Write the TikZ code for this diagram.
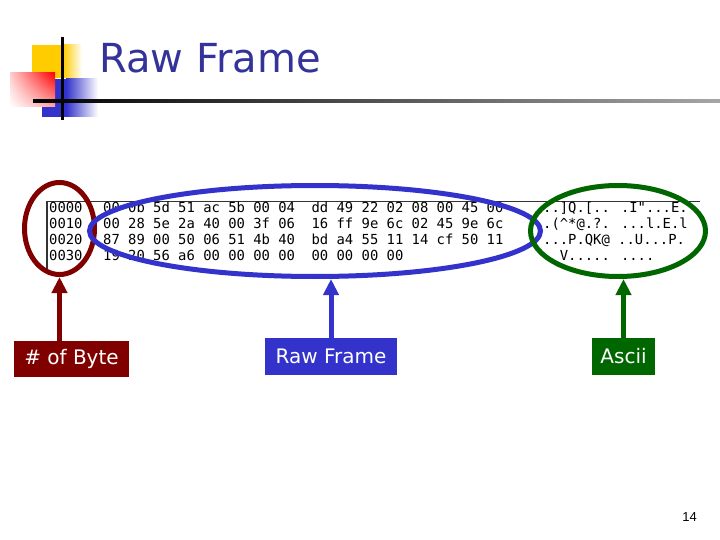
\documentclass[tikz,border=0pt]{standalone}
\usepackage{fontspec}
\setmainfont{DejaVu Sans}
\newfontfamily\dumpfont{DejaVu Sans Mono}
\newfontfamily\pagefont{Liberation Sans}
\usetikzlibrary{shapes.geometric,arrows.meta,shadings}
\definecolor{titleblue}{RGB}{51,51,153}
\definecolor{bytered}{RGB}{128,0,0}
\definecolor{frameblue}{RGB}{51,51,204}
\definecolor{asciigreen}{RGB}{0,102,0}
\definecolor{logoyellow}{RGB}{255,204,0}
\tikzset{
  ring/.style={ellipse,draw=#1,line width=5pt,inner sep=0pt},
  tag/.style={fill=#1,text=white,inner sep=0pt,font=\fontsize{20}{24}\selectfont},
  pointer/.style={draw=#1,line width=5pt,-{Triangle[width=15pt,length=16pt]}},
  dump/.style={anchor=base west,inner sep=0pt,font=\fontsize{13.85}{16}\dumpfont}
}

\begin{document}
\begin{tikzpicture}[x=1pt,y=-1pt]
    \useasboundingbox (0,0) rectangle (720,540);
    % logo
    \fill[logoyellow] (32,45) rectangle (63,78);
    \shade[left color=logoyellow,right color=white] (63,45) rectangle (82,78);
    \fill[frameblue] (42,79) rectangle (66,117);
    \shade[left color=frameblue,right color=white] (66,79) rectangle (98,117);
    \shade[upper left=red!20,upper right=red,lower left=white,lower right=red!35] (10,73) rectangle (55,107);
    \fill[black] (60.5,37) rectangle (63.5,120);
    \shade[left color=black,right color=black!35] (33,99.5) rectangle (720,102.5);
    \node[anchor=base west,inner sep=0pt,text=titleblue,font=\fontsize{40}{48}\selectfont] (title) at (99,73) {Raw Frame};

    % hex dump
    \draw[line width=1.2pt,black!80] (47,270) -- (47,201.5) -- (700,201.5);
    \node[dump] (off0) at (49,213) {0000};
    \node[dump] (off1) at (49,228.7) {0010};
    \node[dump] (off2) at (49,244.4) {0020};
    \node[dump] (off3) at (49,260) {0030};
    \node[dump] (hex0) at (103,213) {00 0b 5d 51 ac 5b 00 04\ \ dd 49 22 02 08 00 45 00};
    \node[dump] (hex1) at (103,228.7) {00 28 5e 2a 40 00 3f 06\ \ 16 ff 9e 6c 02 45 9e 6c};
    \node[dump] (hex2) at (103,244.4) {87 89 00 50 06 51 4b 40\ \ bd a4 55 11 14 cf 50 11};
    \node[dump] (hex3) at (103,260) {19 20 56 a6 00 00 00 00\ \ 00 00 00 00};
    \node[dump] (asc0) at (543,213) {..]Q.[.. .I"...E.};
    \node[dump] (asc1) at (543,228.7) {.(\textasciicircum*@.?. ...l.E.l};
    \node[dump] (asc2) at (543,244.4) {...P.QK@ ..U...P.};
    \node[dump] (asc3) at (543,260) {\ \ V..... ....};

    % marks
    \node[ring=bytered,minimum width=70pt,minimum height=92pt] (bytering) at (59.5,228.5) {};
    \node[ring=frameblue,minimum width=451pt,minimum height=91pt] (framering) at (315,231) {};
    \node[ring=asciigreen,minimum width=175pt,minimum height=91pt] (asciiring) at (618,231) {};

    \node[tag=bytered,minimum width=115pt,minimum height=36pt] (bytetag) at (71.5,359) {\# of Byte};
    \node[tag=frameblue,minimum width=132pt,minimum height=37pt] (frametag) at (331,356.5) {Raw Frame};
    \node[tag=asciigreen,minimum width=63pt,minimum height=37pt] (asciitag) at (623.5,356.5) {Ascii};

    \draw[pointer=bytered] (bytetag.north -| bytering.south) -- (bytering.south);
    \draw[pointer=frameblue] (frametag.north) -- (frametag.north |- framering.south);
    \draw[pointer=asciigreen] (asciitag.north) -- (asciitag.north |- asciiring.south);

    \node[anchor=base east,inner sep=0pt,font=\fontsize{13}{15}\pagefont] (pagenum) at (697,521) {14};
\end{tikzpicture}
\end{document}
